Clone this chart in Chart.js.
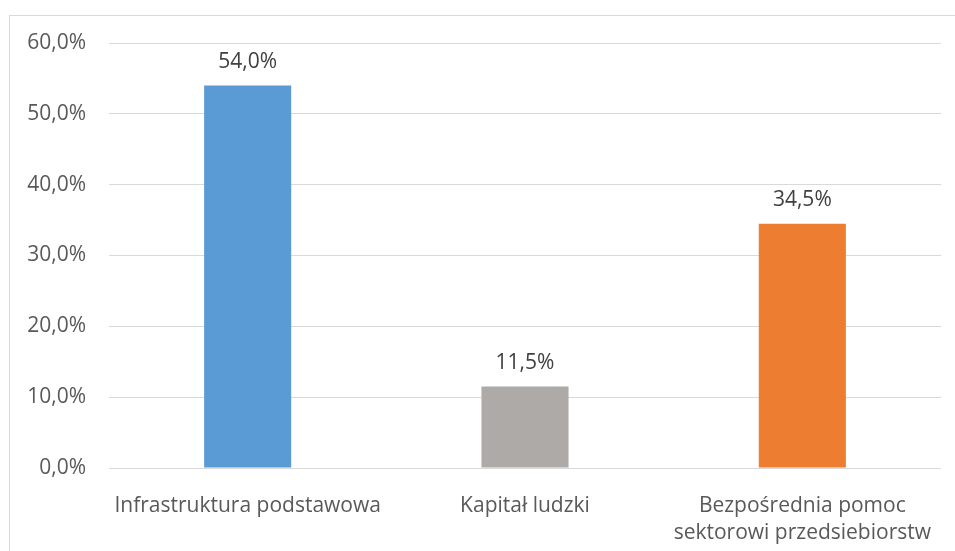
<!DOCTYPE html>
<html>
<head>
<meta charset="utf-8">
<script src="https://cdn.jsdelivr.net/npm/chart.js@4/dist/chart.umd.min.js"></script>
<style>
html,body{margin:0;padding:0;background:#fff;}
#wrap{position:relative;width:955px;height:551px;overflow:hidden;}
#frame{position:absolute;left:9px;top:15px;width:1000px;height:600px;border:1px solid #d9d9d9;box-sizing:border-box;}
canvas{position:absolute;left:0;top:0;}
</style>
</head>
<body>
<div id="wrap">
<div id="frame"></div>
<canvas id="c" width="955" height="551"></canvas>
</div>
<script>
const categories = ["Infrastruktura podstawowa", "Kapitał ludzki", ["Bezpośrednia pomoc", "sektorowi przedsiebiorstw"]];
const values = [54.0, 11.5, 34.5];
const barColors = ["#5B9BD5", "#ADAAA8", "#ED7D31"];
const yTicks = [0, 10, 20, 30, 40, 50, 60];

const FONT = "'Open Sans', sans-serif";
const FS = 21;
const fmt = v => v.toFixed(1).replace('.', ',') + '%';

const labelPlugin = {
  id: 'barLabels',
  afterDatasetsDraw(chart) {
    const ctx = chart.ctx;
    const meta = chart.getDatasetMeta(0);
    ctx.save();
    ctx.font = FS + "px " + FONT;
    ctx.fillStyle = "#404040";
    ctx.textAlign = "center";
    ctx.textBaseline = "alphabetic";
    meta.data.forEach((bar, i) => {
      ctx.fillText(fmt(values[i]), bar.x, bar.y - 18);
    });
    ctx.restore();
  }
};

new Chart(document.getElementById('c'), {
  type: 'bar',
  data: {
    labels: categories,
    datasets: [{
      data: values,
      backgroundColor: barColors,
      categoryPercentage: 1.0,
      barPercentage: 0.314
    }]
  },
  options: {
    responsive: false,
    animation: false,
    devicePixelRatio: 1,
    layout: { padding: { left: 0, right: 14, top: 43, bottom: 0 } },
    plugins: { legend: { display: false }, tooltip: { enabled: false } },
    scales: {
      x: {
        grid: { display: false },
        border: { display: false },
        ticks: { color: "#595959", font: { family: FONT, size: FS, lineHeight: 1.3 }, padding: 16, maxRotation: 0, autoSkip: false },
        afterFit(s) { s.height = 83; }
      },
      y: {
        min: 0, max: 60,
        afterBuildTicks(s) { s.ticks = yTicks.map(v => ({ value: v })); },
        grid: { color: "#d9d9d9", lineWidth: 1, drawTicks: false },
        border: { display: false },
        ticks: { color: "#595959", font: { family: FONT, size: FS }, padding: 23, callback: v => fmt(v) },
        afterFit(s) { s.width = 109; }
      }
    }
  },
  plugins: [labelPlugin]
});
</script>
</body>
</html>
